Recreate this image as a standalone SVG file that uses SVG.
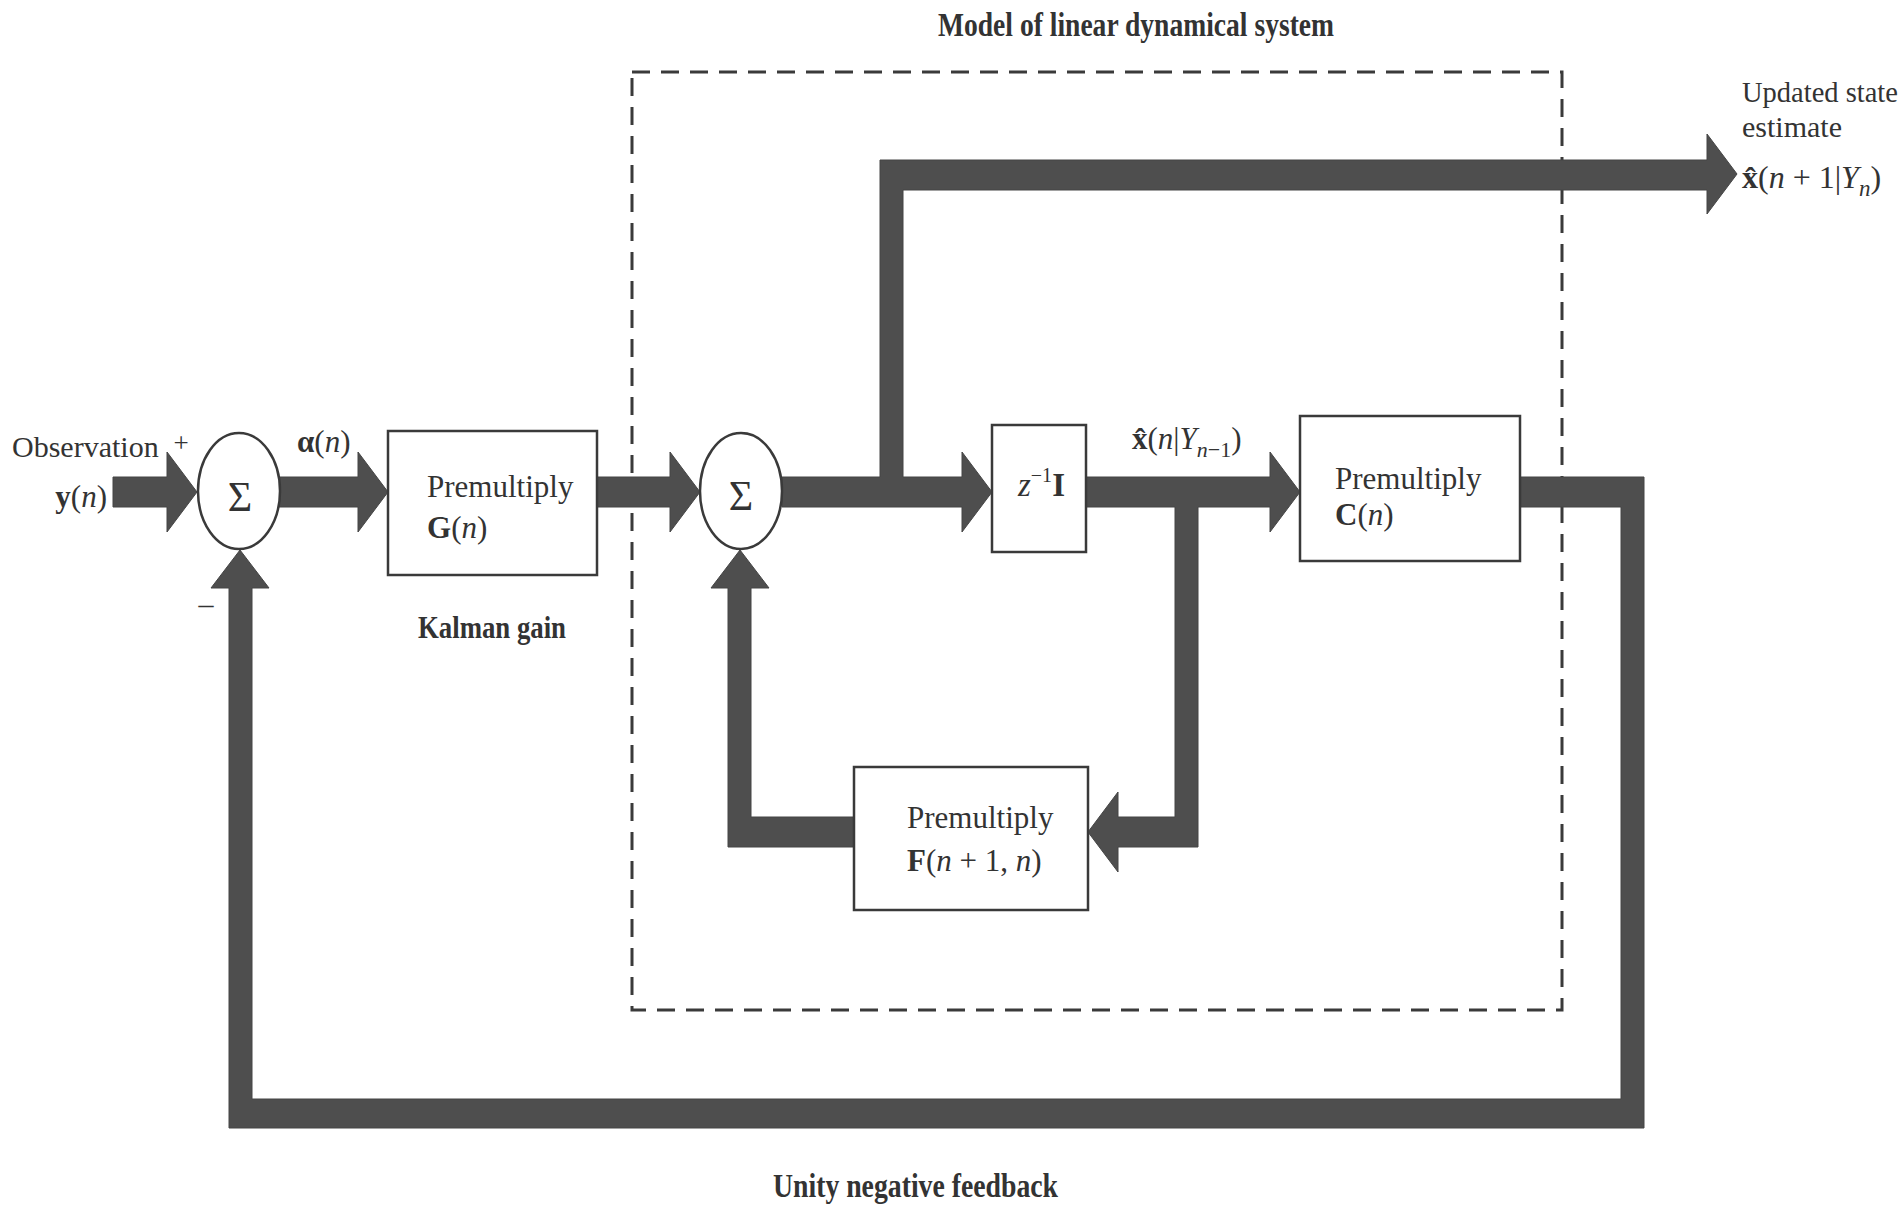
<svg xmlns="http://www.w3.org/2000/svg" width="1902" height="1225" viewBox="0 0 1902 1225">
<style>
.t{font-family:"Liberation Serif","Times New Roman",serif;font-size:31px;fill:#333}
.b{font-weight:bold}
.i{font-style:italic}
.box{fill:#fff;stroke:#3a3a3a;stroke-width:2.5}
.sum{fill:#fff;stroke:#3a3a3a;stroke-width:2.5}
.flow{fill:#4e4e4e;stroke:#444;stroke-width:1}
.dash{fill:none;stroke:#3a3a3a;stroke-width:3;stroke-dasharray:18 11}
</style>
<rect width="1902" height="1225" fill="#fff"/>

<!-- dashed system boundary -->
<rect id="system-boundary" class="dash" x="632" y="72" width="930" height="938"/>

<g id="connectors">
  <!-- input y(n) -> sum1 -->
  <path class="flow" d="M113,477 H167 V452 L197,492 L167,532 V507 H113 Z"/>
  <!-- sum1 -> G -->
  <path class="flow" d="M279,477 H358 V452 L388,492 L358,532 V507 H279 Z"/>
  <!-- G -> sum2 -->
  <path class="flow" d="M597,477 H670 V452 L700,492 L670,532 V507 H597 Z"/>
  <!-- sum2 -> z^-1 I, with branch up to output -->
  <path class="flow" d="M782,477 H880 V160 H1707 V134 L1737,174 L1707,214 V190 H903 V477 H962 V452 L992,492 L962,532 V507 H782 Z"/>
  <!-- z^-1 I -> C, with branch down to F -->
  <path class="flow" d="M1086,477 H1270 V452 L1300,492 L1270,532 V507 H1198 V847 H1118 V872 L1088,832 L1118,792 V817 H1175 V507 H1086 Z"/>
  <!-- F -> sum2 -->
  <path class="flow" d="M854,817 H751 V588 H769 L740,550 L711,588 H728 V847 H854 Z"/>
  <!-- C -> unity negative feedback -> sum1 -->
  <path class="flow" d="M1520,477 H1644 V1128 H229 V588 H211 L240,550 L269,588 H252 V1099 H1621 V507 H1520 Z"/>
</g>

<g id="sum1">
  <ellipse class="sum" cx="239" cy="491" rx="41" ry="58"/>
  <text class="t" x="240" y="511" text-anchor="middle" style="font-size:42px">Σ</text>
</g>
<g id="sum2">
  <ellipse class="sum" cx="741" cy="491" rx="41" ry="58"/>
  <text class="t" x="741" y="510" text-anchor="middle" style="font-size:42px">Σ</text>
</g>

<g id="G-box">
  <rect class="box" x="388" y="431" width="209" height="144"/>
  <text class="t" x="427" y="497">Premultiply</text>
  <text class="t" x="427" y="538"><tspan class="b">G</tspan>(<tspan class="i">n</tspan>)</text>
</g>

<g id="delay-box">
  <rect class="box" x="992" y="425" width="94" height="127"/>
  <text class="t" x="1018" y="496"><tspan class="i" style="font-size:33px">z</tspan><tspan dy="-14" style="font-size:20px">−1</tspan><tspan dy="14" class="b" style="font-size:33px">I</tspan></text>
</g>

<g id="C-box">
  <rect class="box" x="1300" y="416" width="220" height="145"/>
  <text class="t" x="1335" y="489">Premultiply</text>
  <text class="t" x="1335" y="525"><tspan class="b">C</tspan>(<tspan class="i">n</tspan>)</text>
</g>

<g id="F-box">
  <rect class="box" x="854" y="767" width="234" height="143"/>
  <text class="t" x="907" y="828">Premultiply</text>
  <text class="t" x="907" y="871"><tspan class="b">F</tspan>(<tspan class="i">n</tspan> + 1, <tspan class="i">n</tspan>)</text>
</g>

<g id="labels">
  <text class="t b" x="938" y="36" textLength="396" lengthAdjust="spacingAndGlyphs" style="font-size:33px">Model of linear dynamical system</text>
  <text class="t" x="12" y="457" style="font-size:30px">Observation</text>
  <text class="t" x="181" y="452" text-anchor="middle" style="font-size:27px">+</text>
  <text class="t" x="107" y="507" text-anchor="end"><tspan class="b">y</tspan>(<tspan class="i">n</tspan>)</text>
  <text class="t" x="206" y="614" text-anchor="middle" style="font-size:30px">–</text>
  <text class="t" x="297" y="452"><tspan class="b">α</tspan>(<tspan class="i">n</tspan>)</text>
  <text class="t b" x="418" y="638" textLength="148" lengthAdjust="spacingAndGlyphs" style="font-size:32px">Kalman gain</text>
  <text class="t" x="1132" y="449"><tspan class="b">x̂</tspan>(<tspan class="i">n</tspan>|<tspan class="i">Y</tspan><tspan class="i" dy="8" style="font-size:22px">n</tspan><tspan style="font-size:22px">−1</tspan><tspan dy="-8">)</tspan></text>
  <text class="t" x="1742" y="102" style="font-size:28.5px">Updated state</text>
  <text class="t" x="1742" y="137" style="font-size:30px">estimate</text>
  <text class="t" x="1742" y="188" style="font-size:32px"><tspan class="b">x̂</tspan>(<tspan class="i">n</tspan> + 1|<tspan class="i">Y</tspan><tspan class="i" dy="8" style="font-size:23px">n</tspan><tspan dy="-8">)</tspan></text>
  <text class="t b" x="773" y="1197" textLength="285" lengthAdjust="spacingAndGlyphs" style="font-size:33px">Unity negative feedback</text>
</g>
</svg>
